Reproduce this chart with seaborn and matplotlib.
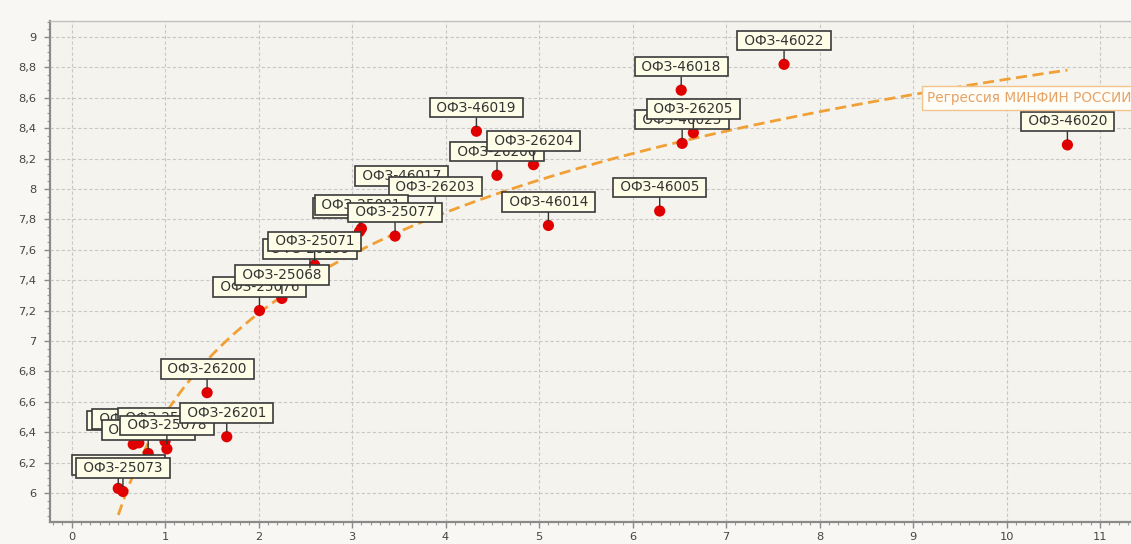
import numpy as np
import pandas as pd
import matplotlib
matplotlib.use("Agg")
import matplotlib.pyplot as plt
from matplotlib.ticker import MultipleLocator, FuncFormatter
import seaborn as sns

# Bond names, duration (years) and yield (%) of Russian federal loan bonds
bonds = [
    "ОФЗ-25072", "ОФЗ-25073",
    "ОФЗ-25079", "ОФЗ-26202", "ОФЗ-25075", "ОФЗ-26198", "ОФЗ-25078", "ОФЗ-26201",
    "ОФЗ-26200",
    "ОФЗ-25076", "ОФЗ-25068", "ОФЗ-26199", "ОФЗ-25071",
    "ОФЗ-46017", "ОФЗ-26203", "ОФЗ-25080", "ОФЗ-25081", "ОФЗ-25077",
    "ОФЗ-46019", "ОФЗ-26206", "ОФЗ-26204", "ОФЗ-46014", "ОФЗ-46005",
    "ОФЗ-46025", "ОФЗ-26205", "ОФЗ-46018", "ОФЗ-46022", "ОФЗ-46020",
]
duration = [
    0.50, 0.55,
    0.66, 0.72, 1.00, 0.82, 1.02, 1.66,
    1.45,
    2.01, 2.25, 2.55, 2.60,
    3.53, 3.89, 3.08, 3.10, 3.46,
    4.33, 4.55, 4.94, 5.10, 6.29,
    6.53, 6.65, 6.52, 7.62, 10.65,
]
yield_pct = [
    6.03, 6.01,
    6.32, 6.33, 6.34, 6.26, 6.29, 6.37,
    6.66,
    7.20, 7.28, 7.45, 7.50,
    7.93, 7.86, 7.72, 7.74, 7.69,
    8.38, 8.09, 8.16, 7.76, 7.855,
    8.30, 8.37, 8.65, 8.82, 8.29,
]
regression_label = "Регрессия МИНФИН РОССИИ"

x_ticks = list(range(0, 12))
y_ticks = [6.0, 6.2, 6.4, 6.6, 6.8, 7.0, 7.2, 7.4, 7.6, 7.8, 8.0, 8.2, 8.4, 8.6, 8.8, 9.0]

df = pd.DataFrame({"bond": bonds, "duration": duration, "yield": yield_pct})

sns.set_style("whitegrid")
plt.rcParams["font.family"] = ["DejaVu Sans"]

fig = plt.figure(figsize=(11.31, 5.44), dpi=100, facecolor="#f8f7f4")
ax = fig.add_axes([50 / 1131, 1 - 522 / 544, 1 - 50 / 1131, (522 - 21) / 544])
ax.set_facecolor("#f5f3ee")

# logarithmic regression curve of yield on duration
sns.regplot(data=df, x="duration", y="yield", logx=True, ci=None, scatter=False,
            truncate=True, ax=ax,
            line_kws=dict(color="#f0a035", lw=2.0, ls=(0, (4, 2)), zorder=2))

sns.scatterplot(data=df, x="duration", y="yield", ax=ax, s=65, color="#e00000",
                edgecolor="none", zorder=2.5, legend=False)

for name, xv, yv in zip(df["bond"], df["duration"], df["yield"]):
    ax.annotate(" " + name + " ", xy=(xv, yv), xytext=(0, 17), textcoords="offset points",
                ha="center", va="center", fontsize=9.8, color="#333333", zorder=3,
                bbox=dict(boxstyle="square,pad=0.2", fc="#fdfde8", ec="#3a3a3a", lw=1.2),
                arrowprops=dict(arrowstyle="-", color="#333333", lw=1.0,
                                shrinkA=0, shrinkB=3.5))

ax.text(9.15, 8.60, regression_label, ha="left", va="center", fontsize=9.8,
        color="#e6a265", zorder=3.5,
        bbox=dict(boxstyle="square,pad=0.35", fc="#fffdf8", ec="#f0c48c", lw=1.0))

ax.set_xlim(-0.23, 11.33)
ax.set_ylim(5.809, 9.105)
ax.set_xticks(x_ticks)
ax.set_yticks(y_ticks)
ax.xaxis.set_minor_locator(MultipleLocator(0.1))
ax.yaxis.set_minor_locator(MultipleLocator(0.05))
ax.yaxis.set_major_formatter(FuncFormatter(lambda v, p: f"{v:g}".replace(".", ",")))
ax.set_xlabel("")
ax.set_ylabel("")

ax.grid(True, which="major", color="#c8c8c8", ls=(0, (3, 2)), lw=0.8)
ax.grid(False, which="minor")
ax.tick_params(which="major", direction="out", length=4, width=1, color="#8a8a8a",
               labelsize=8.2, labelcolor="#444444", pad=3,
               bottom=True, left=True)
ax.tick_params(axis="y", which="major", pad=6)
ax.tick_params(which="minor", direction="out", length=2.5, width=0.8, color="#9a9a9a",
               bottom=True, left=True)

for side in ("left", "bottom"):
    ax.spines[side].set_color("#8a8a8a")
    ax.spines[side].set_linewidth(1.6)
ax.spines["top"].set_color("#c0c0c0")
ax.spines["top"].set_linewidth(1.0)
ax.spines["right"].set_visible(False)

fig.savefig("out.png", dpi=100, facecolor=fig.get_facecolor())
